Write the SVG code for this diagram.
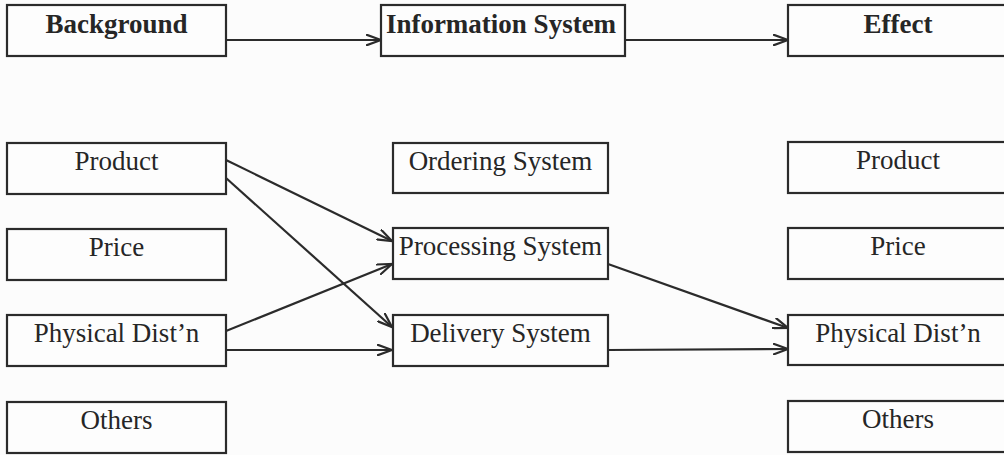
<svg xmlns="http://www.w3.org/2000/svg" width="1004" height="455" viewBox="0 0 1004 455">
<defs>
<style>
.box{fill:#fdfdfd;stroke:#2b2b2b;stroke-width:2.2}
.t{font-family:"Liberation Serif","Times New Roman",serif;font-size:27px;fill:#262626;text-anchor:middle}
.b{font-weight:bold}
.c{fill:none;stroke:#2b2b2b;stroke-width:2.2}
</style>
<marker id="ah" viewBox="0 0 16 12" refX="15" refY="6" markerWidth="16" markerHeight="12" markerUnits="userSpaceOnUse" orient="auto">
<path d="M0,0.5 L15,6 L0,11.5" fill="none" stroke="#2b2b2b" stroke-width="2.2"/>
</marker>
</defs>
<rect width="1004" height="455" fill="#fcfcfc"/>
<g id="connectors">
<line class="c" x1="226" y1="40" x2="381" y2="40" marker-end="url(#ah)"/>
<line class="c" x1="625" y1="40" x2="788" y2="40" marker-end="url(#ah)"/>
<line class="c" x1="226" y1="160" x2="392" y2="241" marker-end="url(#ah)"/>
<line class="c" x1="226" y1="178" x2="392" y2="327" marker-end="url(#ah)"/>
<line class="c" x1="226" y1="331" x2="392" y2="264" marker-end="url(#ah)"/>
<line class="c" x1="226" y1="350" x2="392" y2="350" marker-end="url(#ah)"/>
<line class="c" x1="608" y1="264" x2="788" y2="328" marker-end="url(#ah)"/>
<line class="c" x1="608" y1="350" x2="788" y2="349" marker-end="url(#ah)"/>
</g>
<g id="background"><rect class="box" x="7" y="5" width="219" height="51"/><text class="t b" x="116.5" y="33">Background</text></g>
<g id="information-system"><rect class="box" x="381" y="5" width="244" height="51"/><text class="t b" x="501" y="33">Information System</text></g>
<g id="effect"><rect class="box" x="788" y="5" width="221" height="51"/><text class="t b" x="898" y="33">Effect</text></g>

<g id="bg-product"><rect class="box" x="7" y="143" width="219" height="51"/><text class="t" x="116.5" y="170">Product</text></g>
<g id="bg-price"><rect class="box" x="7" y="229" width="219" height="51"/><text class="t" x="116.5" y="256">Price</text></g>
<g id="bg-physical"><rect class="box" x="7" y="315" width="219" height="51"/><text class="t" x="116.5" y="342">Physical Dist’n</text></g>
<g id="bg-others"><rect class="box" x="7" y="402" width="219" height="51"/><text class="t" x="116.5" y="429">Others</text></g>

<g id="ordering-system"><rect class="box" x="393" y="143" width="215" height="50"/><text class="t" x="500.5" y="170">Ordering System</text></g>
<g id="processing-system"><rect class="box" x="393" y="228" width="215" height="51"/><text class="t" x="500.5" y="255">Processing System</text></g>
<g id="delivery-system"><rect class="box" x="393" y="315" width="215" height="51"/><text class="t" x="500.5" y="342">Delivery System</text></g>

<g id="ef-product"><rect class="box" x="788" y="142" width="221" height="51"/><text class="t" x="898" y="169">Product</text></g>
<g id="ef-price"><rect class="box" x="788" y="228" width="221" height="51"/><text class="t" x="898" y="255">Price</text></g>
<g id="ef-physical"><rect class="box" x="788" y="315" width="221" height="50"/><text class="t" x="898" y="342">Physical Dist’n</text></g>
<g id="ef-others"><rect class="box" x="788" y="401" width="221" height="51"/><text class="t" x="898" y="428">Others</text></g>
</svg>
